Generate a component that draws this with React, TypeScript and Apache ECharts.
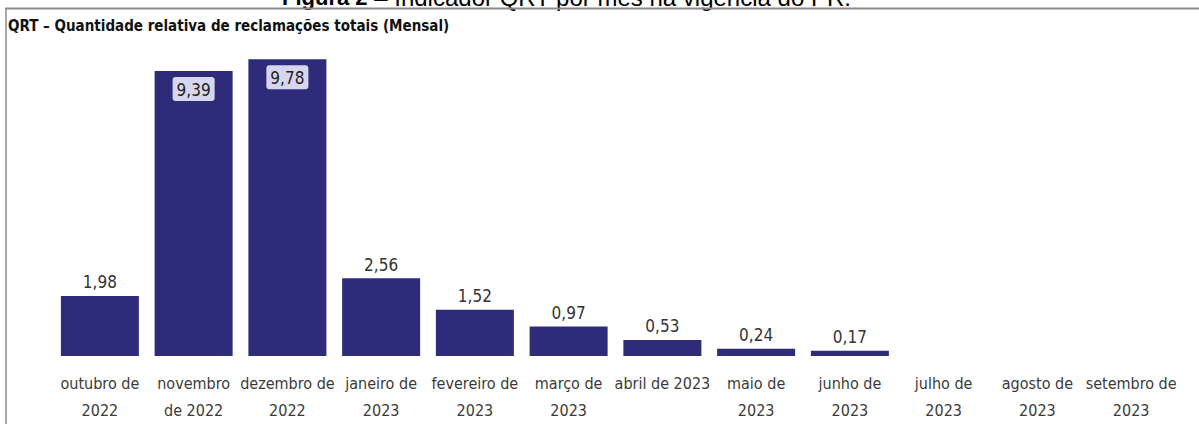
import React, { useEffect, useRef } from "react";
import * as echarts from "echarts";

const categories = [
  "outubro de\n2022",
  "novembro\nde 2022",
  "dezembro de\n2022",
  "janeiro de\n2023",
  "fevereiro de\n2023",
  "março de\n2023",
  "abril de 2023",
  "maio de\n2023",
  "junho de\n2023",
  "julho de\n2023",
  "agosto de\n2023",
  "setembro de\n2023",
];
const values: (number | null)[] = [1.98, 9.39, 9.78, 2.56, 1.52, 0.97, 0.53, 0.24, 0.17, null, null, null];
const insideLabelCategories = ["novembro\nde 2022", "dezembro de\n2022"];
const chartTitle = "QRT – Quantidade relativa de reclamações totais (Mensal)";
const captionBold = "Figura 2";
const captionRest = " – Indicador QRT por mês na vigência do PR.";

const NARROW = '"DejaVu Sans Condensed", "Liberation Sans", sans-serif';

export default function App() {
  const ref = useRef<HTMLDivElement>(null);
  useEffect(() => {
    if (!ref.current) return;
    const chart = echarts.init(ref.current, undefined, { renderer: "svg" });
    const fmt = (v: number) => v.toFixed(2).replace(".", ",");
    const data = values.map((v, i) => {
      if (v === null) return null;
      if (insideLabelCategories.includes(categories[i])) {
        return {
          value: v,
          label: {
            show: true,
            position: "insideTop",
            distance: 6,
            backgroundColor: "#d6d6ee",
            borderRadius: 3,
            padding: [4, 4, 3, 4],
            color: "#222",
          },
        };
      }
      return v;
    });
    chart.setOption({
      animation: false,
      backgroundColor: "#ffffff",
      textStyle: { fontFamily: NARROW },
      grid: { left: 53, right: 21, top: 52.5, bottom: 68, containLabel: false },
      xAxis: {
        type: "category",
        data: categories,
        axisLine: { show: false },
        axisTick: { show: false },
        axisLabel: {
          interval: 0,
          fontFamily: NARROW,
          fontSize: 16,
          lineHeight: 27,
          color: "#3a3a3a",
          margin: 14,
          verticalAlign: "top",
        },
      },
      yAxis: {
        type: "value",
        min: 0,
        max: 10,
        show: false,
        splitLine: { show: false },
      },
      series: [
        {
          type: "bar",
          data,
          barCategoryGap: "16.8%",
          itemStyle: { color: "#2e2c7a" },
          label: {
            show: true,
            position: "top",
            distance: 5,
            fontFamily: NARROW,
            fontSize: 17,
            color: "#333",
            formatter: (p: any) => fmt(p.value),
          },
        },
      ],
      graphic: [
        {
          type: "text",
          left: 8,
          top: 18,
          style: {
            text: chartTitle,
            fontFamily: NARROW,
            fontWeight: "bold",
            fontSize: 15,
            fill: "#111",
          },
        },
        {
          type: "text",
          x: 282,
          y: -2.5,
          style: {
            text: "{b|" + captionBold + "}" + "{r|" + captionRest + "}",
            verticalAlign: "middle",
            rich: {
              b: { fontFamily: '"Liberation Sans", Arial, sans-serif', fontWeight: "bold", fontSize: 22, fill: "#000" },
              r: { fontFamily: '"Liberation Sans", Arial, sans-serif', fontSize: 24, fill: "#000" },
            },
          },
        },
        {
          type: "line",
          shape: { x1: 5, y1: 8.5, x2: 1199, y2: 8.5 },
          style: { stroke: "#8c8c8c", lineWidth: 2 },
        },
        {
          type: "line",
          shape: { x1: 6, y1: 8, x2: 6, y2: 424 },
          style: { stroke: "#8c8c8c", lineWidth: 1.5 },
        },
      ],
    });
    return () => chart.dispose();
  }, []);
  return (
    <div
      ref={ref}
      style={{ position: "absolute", left: 0, top: 0, width: 1199, height: 424, background: "#fff" }}
    />
  );
}
